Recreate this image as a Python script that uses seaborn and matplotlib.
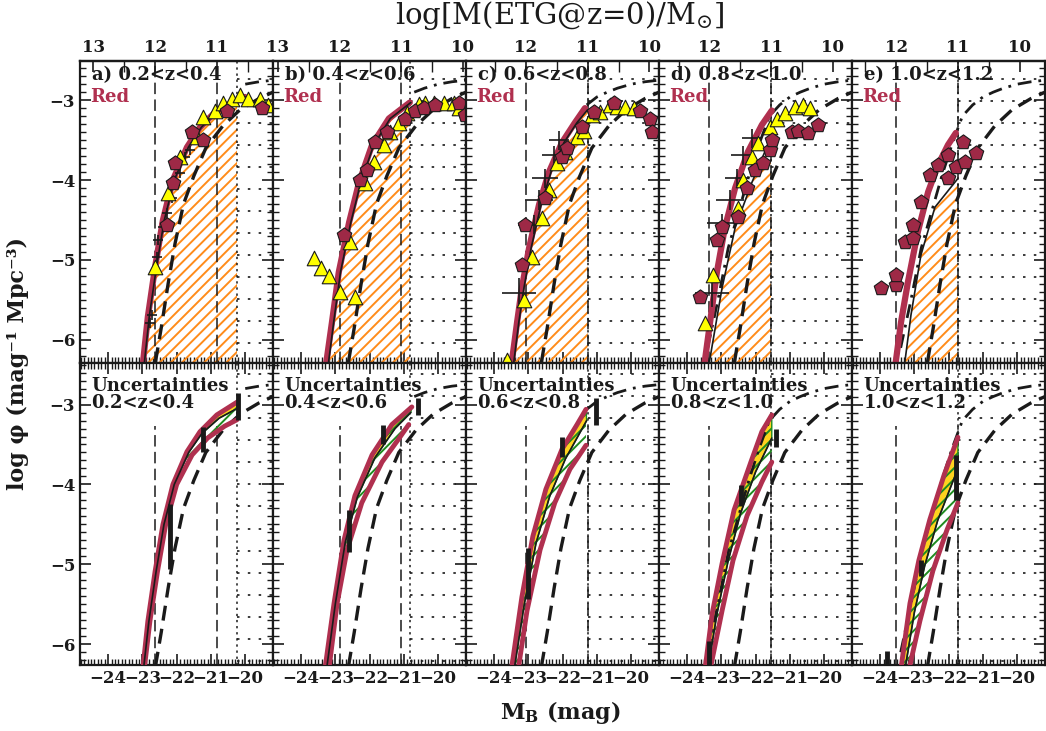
import matplotlib
matplotlib.use("Agg")
import matplotlib.pyplot as plt
import numpy as np
import seaborn as sns
from matplotlib.patches import Rectangle
from matplotlib.ticker import MultipleLocator

# ---- panel set-up -------------------------------------------------------
PANEL_TAGS = ["a)", "b)", "c)", "d)", "e)"]
ZBINS = ["0.2<z<0.4", "0.4<z<0.6", "0.6<z<0.8", "0.8<z<1.0", "1.0<z<1.2"]
M_AT_LOGM12 = [-22.63, -22.88, -23.07, -23.35, -23.53]   # M_B where log M = 12
MAG_PER_DEX = 1.8
COMPLETENESS = [-20.24, -20.83, -21.27, -21.55, -21.73]  # start of dotted region
DASHDOT_START = [-20.30, -20.90, -21.30, -24.5, -24.5]

# ---- top row: fitted LF (thick red) and thin black model ------------------
RED_M = [
    [-23.00, -22.84, -22.63, -22.40, -22.11, -21.70, -21.32, -20.83, -20.36, -20.01],
    [-23.32, -23.10, -22.90, -22.60, -22.31, -21.93, -21.44, -20.83],
    [-23.50, -23.33, -23.19, -22.98, -22.69, -22.40, -22.02, -21.64, -21.35],
    [-23.50, -23.33, -23.13, -22.90, -22.60, -22.23, -21.82, -21.53],
    [-23.56, -23.39, -23.19, -22.90, -22.60, -22.31, -22.02, -21.79],
]
RED_PHI = [
    [-6.36, -5.71, -5.09, -4.50, -4.00, -3.59, -3.34, -3.13, -3.03, -2.96],
    [-6.45, -5.78, -5.15, -4.53, -4.03, -3.56, -3.23, -3.03],
    [-6.33, -5.78, -5.35, -4.85, -4.31, -3.90, -3.53, -3.28, -3.10],
    [-6.32, -5.78, -5.15, -4.60, -4.10, -3.65, -3.31, -3.13],
    [-6.33, -5.78, -5.28, -4.65, -4.15, -3.81, -3.56, -3.41],
]
BLACK_M = [
    [-22.96, -22.80, -22.59, -22.36, -22.07, -21.66, -21.28, -20.79, -20.32, -19.97],
    [-23.25, -23.05, -22.85, -22.55, -22.26, -21.88, -21.40, -20.80],
    [-23.44, -23.28, -23.13, -22.92, -22.63, -22.34, -21.96, -21.58, -21.27],
    [-23.38, -23.20, -22.98, -22.60, -22.11, -21.53],
    [-23.30, -23.10, -22.81, -22.40, -21.73],
]
BLACK_PHI = [
    [-6.36, -5.71, -5.09, -4.50, -4.00, -3.59, -3.34, -3.13, -3.03, -2.96],
    [-6.45, -5.78, -5.15, -4.53, -4.03, -3.56, -3.23, -3.03],
    [-6.33, -5.78, -5.35, -4.85, -4.31, -3.90, -3.53, -3.28, -3.12],
    [-6.35, -5.90, -5.35, -4.60, -4.03, -3.44],
    [-6.35, -5.69, -4.94, -4.34, -3.98],
]

# local reference LF (thick dashed) and evolved curve (dash-dot), shared
LOCAL_M = [-22.62, -22.45, -22.25, -22.05, -21.80, -21.50, -21.15, -20.65, -20.15, -19.60, -19.19]
LOCAL_PHI = [-6.28, -5.85, -5.30, -4.80, -4.30, -3.95, -3.60, -3.32, -3.12, -2.98, -2.90]
DASHDOT_M = [-23.40, -23.10, -22.80, -22.50, -22.20, -21.90, -21.60, -21.30, -21.00, -20.70, -20.40, -20.00, -19.60, -19.19]
DASHDOT_PHI = [-6.10, -5.50, -4.85, -4.40, -3.95, -3.55, -3.20, -3.06, -2.96, -2.90, -2.85, -2.80, -2.77, -2.75]

# ---- top row: data points -------------------------------------------------
TRI_M = [
    [-22.63, -22.25, -21.90, -21.41, -21.23, -20.88, -20.65, -20.39, -20.16, -19.92, -19.57, -19.34],
    [-23.62, -23.42, -23.19, -22.87, -22.43, -22.58, -22.14, -21.88, -21.58, -21.41, -21.15, -20.91,
     -20.56, -20.39, -20.12, -19.83, -19.54, -19.40],
    [-23.62, -23.13, -22.90, -22.60, -22.40, -22.17, -21.93, -21.58, -21.38, -21.15, -20.91, -20.62,
     -20.42, -20.19, -19.92],
    [-23.48, -23.25, -22.52, -22.37, -22.11, -21.93, -21.58, -21.38, -21.15, -20.85, -20.62, -20.42],
    [],
]
TRI_PHI = [
    [-5.09, -4.16, -3.71, -3.46, -3.21, -3.13, -3.03, -2.98, -2.94, -2.98, -2.98, -3.06],
    [-4.98, -5.10, -5.20, -5.40, -5.46, -4.78, -4.04, -3.78, -3.56, -3.40, -3.28, -3.16,
     -3.05, -3.04, -3.03, -3.04, -3.03, -3.10],
    [-6.25, -5.50, -4.96, -4.48, -4.13, -3.79, -3.65, -3.46, -3.38, -3.19, -3.15, -3.06,
     -3.09, -3.09, -3.10],
    [-5.79, -5.19, -4.35, -4.00, -3.71, -3.54, -3.34, -3.23, -3.16, -3.09, -3.06, -3.10],
    [],
]
PENT_M = [
    [-22.05, -22.11, -22.28, -21.55, -21.23, -20.53, -19.51],
    [-22.75, -22.28, -22.08, -21.85, -21.50, -20.97, -20.68, -20.42, -20.10, -19.40, -19.22],
    [-23.10, -23.19, -22.52, -22.02, -21.87, -21.44, -21.09, -20.50, -19.75, -19.46, -19.40],
    [-23.62, -23.13, -22.98, -22.52, -22.26, -22.02, -21.79, -21.58, -21.53, -20.94, -20.77, -20.47, -20.18],
    [-23.97, -23.54, -23.54, -23.27, -23.04, -23.04, -22.81, -22.55, -22.31, -22.02, -22.02, -21.79,
     -21.58, -21.53, -21.20],
]
PENT_PHI = [
    [-3.79, -4.04, -4.56, -3.40, -3.50, -3.13, -3.10],
    [-4.69, -4.00, -3.88, -3.53, -3.40, -3.23, -3.13, -3.10, -3.06, -3.03, -3.19],
    [-4.56, -5.06, -4.23, -3.71, -3.60, -3.34, -3.15, -3.04, -3.13, -3.23, -3.40],
    [-5.46, -4.75, -4.59, -4.46, -4.10, -3.88, -3.79, -3.63, -3.50, -3.40, -3.38, -3.41, -3.31],
    [-5.35, -5.31, -5.19, -4.78, -4.73, -4.56, -4.28, -3.94, -3.81, -3.98, -3.69, -3.84,
     -3.53, -3.78, -3.66],
]
CROSS_M = [
    [-22.78, -22.72, -22.57, -22.55, -22.40, -22.28, -22.14, -22.05, -21.90, -21.76, -21.61],
    [],
    [-23.27, -22.84, -22.69, -22.52, -22.25, -22.11],
    [-23.27, -22.98, -22.75, -22.55, -22.37, -22.11],
    [],
]
CROSS_PHI = [
    [-5.79, -5.69, -4.96, -4.75, -4.59, -4.41, -4.23, -4.06, -3.91, -3.71, -3.63],
    [],
    [-5.41, -4.56, -4.25, -3.98, -3.69, -3.50],
    [-5.41, -4.54, -4.25, -3.98, -3.69, -3.48],
    [],
]
CROSS_XERR = [
    [0.15] * 11,
    [],
    [0.50, 0.45, 0.40, 0.38, 0.35, 0.30],
    [0.50, 0.45, 0.40, 0.35, 0.35, 0.30],
    [],
]
CROSS_YERR = [
    [0.06] * 11,
    [],
    [0.18, 0.12, 0.12, 0.12, 0.12, 0.12],
    [0.18, 0.12, 0.12, 0.12, 0.12, 0.12],
    [],
]

# ---- bottom row: uncertainty envelopes -----------------------------------
HI_M = [
    [-23.00, -22.84, -22.63, -22.40, -22.11, -21.70, -21.32, -20.83, -20.24],
    [-23.35, -23.04, -22.75, -22.43, -21.93, -21.35, -20.77],
    [-23.50, -23.19, -22.87, -22.49, -22.02, -21.58, -21.32],
    [-23.48, -23.27, -22.98, -22.63, -22.14, -21.82, -21.53],
    [-23.40, -23.13, -22.87, -22.55, -22.14, -21.73],
]
HI_PHI = [
    [-6.36, -5.71, -5.09, -4.50, -4.00, -3.59, -3.34, -3.13, -2.97],
    [-6.45, -5.49, -4.70, -4.14, -3.63, -3.25, -3.03],
    [-6.33, -5.41, -4.65, -4.06, -3.56, -3.25, -3.06],
    [-6.32, -5.62, -4.99, -4.32, -3.72, -3.34, -3.13],
    [-6.33, -5.49, -4.95, -4.44, -3.89, -3.41],
]
MID_M = [
    [-22.98, -22.81, -22.60, -22.37, -22.07, -21.65, -21.26, -20.76, -20.24],
    [-23.30, -23.00, -22.71, -22.36, -21.84, -21.26, -20.80],
    [-23.42, -23.12, -22.78, -22.38, -21.92, -21.30],
    [-23.40, -23.12, -22.81, -22.44, -22.00, -21.53],
    [-23.28, -23.00, -22.70, -22.32, -21.73],
]
MID_PHI = [
    [-6.36, -5.71, -5.09, -4.50, -4.00, -3.60, -3.36, -3.17, -3.05],
    [-6.45, -5.49, -4.72, -4.16, -3.66, -3.30, -3.10],
    [-6.33, -5.50, -4.74, -4.15, -3.68, -3.20],
    [-6.32, -5.60, -4.97, -4.36, -3.84, -3.42],
    [-6.33, -5.60, -5.02, -4.45, -3.80],
]
LO_M = [
    [-22.96, -22.78, -22.56, -22.32, -22.00, -21.55, -21.10, -20.60, -20.24],
    [-23.20, -22.95, -22.66, -22.23, -21.64, -21.12, -20.86],
    [-23.30, -23.04, -22.66, -22.23, -21.79, -21.32],
    [-23.33, -22.98, -22.66, -22.25, -21.82, -21.53],
    [-23.16, -22.84, -22.46, -22.05, -21.73],
]
LO_PHI = [
    [-6.36, -5.71, -5.09, -4.50, -4.00, -3.63, -3.42, -3.27, -3.19],
    [-6.35, -5.49, -4.82, -4.23, -3.72, -3.41, -3.25],
    [-6.32, -5.58, -4.82, -4.23, -3.81, -3.51],
    [-6.32, -5.58, -4.95, -4.39, -3.97, -3.72],
    [-6.32, -5.71, -5.08, -4.57, -4.23],
]
ERR_M = [
    [-22.20, -21.23, -20.21],
    [-22.60, -21.61, -20.59],
    [-23.00, -22.02, -21.03],
    [-23.36, -22.43, -21.41],
    [-23.80, -22.81, -21.79],
]
ERR_LO = [
    [-5.06, -3.59, -3.19],
    [-4.84, -3.49, -3.13],
    [-5.43, -3.66, -3.25],
    [-6.32, -4.27, -3.53],
    [-6.32, -5.15, -4.19],
]
ERR_HI = [
    [-4.24, -3.28, -2.85],
    [-4.32, -3.25, -2.92],
    [-4.80, -3.41, -2.92],
    [-5.96, -4.01, -3.30],
    [-6.09, -4.95, -3.63],
]

RED = "#b0304f"
PENT_COLOR = "#9e2946"
ORANGE = "#ff8c1a"
GREEN = "#1f8c1f"
GOLD = "#ffd21f"

XLIM = (-24.82, -19.19)
YLIM_TOP = (-6.29, -2.51)
YLIM_BOT = (-6.26, -2.48)

W, H = 1046, 731
LEFT_PX = [80, 273, 466, 659, 852]
PANEL_W = 193
PANEL_H = 302


def line(ax, x, y, **kw):
    sns.lineplot(x=x, y=y, ax=ax, sort=False, estimator=None, legend=False, **kw)


def dotted_region(ax, xstart, rows):
    for yy in rows:
        ax.hlines(yy, xstart, XLIM[1], colors="k", lw=1.2,
                  linestyles=[(0, (1.5, 5))], zorder=1)
    ax.axvline(xstart, color="k", lw=1.1, ls=(0, (1.5, 2.5)), zorder=1)


def style_axes(ax, ylim, first, bottom_row):
    ax.set_xlim(*XLIM)
    ax.set_ylim(*ylim)
    ax.xaxis.set_major_locator(MultipleLocator(1))
    ax.xaxis.set_minor_locator(MultipleLocator(0.1))
    ax.yaxis.set_major_locator(MultipleLocator(1))
    ax.yaxis.set_minor_locator(MultipleLocator(0.1))
    ax.tick_params(which="major", direction="in", length=8, width=1.2,
                   right=True, top=bottom_row, labelsize=12, colors="k")
    ax.tick_params(which="minor", direction="in", length=4, width=1.0,
                   right=True, top=bottom_row, colors="k")
    for s in ax.spines.values():
        s.set_linewidth(1.6)
        s.set_color("k")
    ax.set_xlabel("")
    ax.set_ylabel("")
    if first:
        ax.set_yticks([-3, -4, -5, -6])
        ax.set_yticklabels(["\u22123", "\u22124", "\u22125", "\u22126"],
                           fontweight="bold")
    else:
        ax.tick_params(labelleft=False)
    if bottom_row:
        ax.set_xticks([-24, -23, -22, -21, -20])
        ax.set_xticklabels(["\u221224", "\u221223", "\u221222", "\u221221", "\u221220"],
                           fontweight="bold")
    else:
        ax.tick_params(labelbottom=False)


def main():
    sns.set_theme(style="ticks")
    plt.rcParams["font.family"] = ["DejaVu Serif"]
    plt.rcParams["mathtext.fontset"] = "dejavuserif"
    plt.rcParams["mathtext.default"] = "regular"
    plt.rcParams["hatch.linewidth"] = 1.4
    plt.rcParams["text.color"] = "k"

    fig = plt.figure(figsize=(W / 100, H / 100), dpi=100)
    top_rows = np.arange(-2.73, -6.3, -0.276)
    bot_rows = np.arange(-2.62, -6.3, -0.276)

    for i in range(5):
        m12 = M_AT_LOGM12[i]
        m11 = m12 + MAG_PER_DEX
        x0 = LEFT_PX[i] / W
        dd_m = [m for m in DASHDOT_M if m >= DASHDOT_START[i]]
        dd_p = [p for m, p in zip(DASHDOT_M, DASHDOT_PHI) if m >= DASHDOT_START[i]]

        # ------------------------------ top row ------------------------------
        ax = fig.add_axes([x0, 1 - 363 / H, PANEL_W / W, PANEL_H / H])
        clip = Rectangle((XLIM[0], -7), COMPLETENESS[i] - XLIM[0], 5, transform=ax.transData)
        hatch = ax.fill_between(BLACK_M[i], BLACK_PHI[i], -7, facecolor="none",
                                edgecolor=ORANGE, hatch="///", lw=0, zorder=1)
        hatch.set_clip_path(clip)
        dotted_region(ax, COMPLETENESS[i], top_rows)
        for xv in (m12, m11):
            ax.axvline(xv, color="k", lw=1.1, ls=(0, (7.5, 3.5)), zorder=2)
        line(ax, LOCAL_M, LOCAL_PHI, color="k", lw=2.4, ls=(0, (4.5, 2.5)), zorder=3)
        line(ax, dd_m, dd_p, color="k", lw=2.0, ls=(0, (5, 2.5, 1, 2.5)), zorder=3)
        line(ax, RED_M[i], RED_PHI[i], color=RED, lw=4.5, zorder=4)
        line(ax, BLACK_M[i], BLACK_PHI[i], color="k", lw=1.2, zorder=5)
        if CROSS_M[i]:
            ax.errorbar(CROSS_M[i], CROSS_PHI[i], xerr=CROSS_XERR[i], yerr=CROSS_YERR[i],
                        fmt="none", ecolor="k", elinewidth=1.2, zorder=6)
        if TRI_M[i]:
            sns.scatterplot(x=TRI_M[i], y=TRI_PHI[i], ax=ax, marker="^", s=110,
                            color="#ffff00", edgecolor="k", linewidth=0.8, zorder=7)
        sns.scatterplot(x=PENT_M[i], y=PENT_PHI[i], ax=ax, marker="p", s=120,
                        color=PENT_COLOR, edgecolor="k", linewidth=0.8, zorder=7)
        ax.text(0.06, 0.982, f"{PANEL_TAGS[i]} {ZBINS[i]}", transform=ax.transAxes,
                ha="left", va="top", fontsize=13, fontweight="bold", zorder=9)
        ax.text(0.055, 0.912, "Red", transform=ax.transAxes, ha="left", va="top",
                fontsize=13, fontweight="bold", color=RED, zorder=9)
        style_axes(ax, YLIM_TOP, i == 0, False)

        sec = ax.secondary_xaxis(
            "top",
            functions=(lambda m, c=m12: 12.0 - (m - c) / MAG_PER_DEX,
                       lambda lm, c=m12: c - (lm - 12.0) * MAG_PER_DEX),
        )
        sec.set_xticks([10, 11, 12, 13])
        sec.xaxis.set_minor_locator(MultipleLocator(0.5))
        sec.tick_params(which="major", direction="in", length=8, width=1.2,
                        labelsize=12, colors="k")
        sec.tick_params(which="minor", direction="in", length=8, width=1.0, colors="k")
        for lab in sec.get_xticklabels():
            lab.set_fontweight("bold")
        sec.spines["top"].set_linewidth(1.6)
        sec.spines["top"].set_color("k")

        # ---------------------------- bottom row -----------------------------
        bx = fig.add_axes([x0, 1 - 665 / H, PANEL_W / W, PANEL_H / H])
        dotted_region(bx, COMPLETENESS[i], bot_rows)
        for xv in (m12, m11):
            bx.axvline(xv, ymax=(-3.27 - YLIM_BOT[0]) / (YLIM_BOT[1] - YLIM_BOT[0]),
                       color="k", lw=1.1, ls=(0, (7.5, 3.5)), zorder=2)
        band_x = np.r_[HI_M[i], LO_M[i][::-1]]
        band_y = np.r_[HI_PHI[i], LO_PHI[i][::-1]]
        core_x = np.r_[HI_M[i], MID_M[i][::-1]]
        core_y = np.r_[HI_PHI[i], MID_PHI[i][::-1]]
        bx.fill(core_x, core_y, facecolor=GOLD, edgecolor=GREEN, lw=1.0, zorder=2)
        bx.fill(band_x, band_y, facecolor="none", edgecolor=GREEN, hatch="///", lw=0, zorder=2)
        line(bx, LOCAL_M, LOCAL_PHI, color="k", lw=2.4, ls=(0, (4.5, 2.5)), zorder=3)
        line(bx, dd_m, dd_p, color="k", lw=2.0, ls=(0, (5, 2.5, 1, 2.5)), zorder=3)
        line(bx, HI_M[i], HI_PHI[i], color=RED, lw=3.5, zorder=4)
        line(bx, LO_M[i], LO_PHI[i], color=RED, lw=3.5, zorder=4)
        line(bx, MID_M[i], MID_PHI[i], color="k", lw=1.2, zorder=5)
        bx.vlines(ERR_M[i], ERR_LO[i], ERR_HI[i], colors="k", lw=3.5, zorder=6)
        bx.text(0.06, 0.955, f"Uncertainties\n{ZBINS[i]}", transform=bx.transAxes,
                ha="left", va="top", fontsize=13, fontweight="bold", linespacing=0.95,
                zorder=9)
        style_axes(bx, YLIM_BOT, i == 0, True)

    fig.text(560 / W, 1 - 16 / H, r"log[M(ETG@z=0)/M$_{\odot}$]", ha="center",
             va="center", fontsize=21)
    fig.text(560 / W, 1 - 712 / H, r"M$_{B}$ (mag)", ha="center", va="center",
             fontsize=16, fontweight="bold")
    fig.text(18 / W, 1 - 363 / H, "log \u03c6 (mag\u207b\u00b9 Mpc\u207b\u00b3)",
             ha="center", va="center", rotation=90, fontsize=16, fontweight="bold")

    fig.savefig("out.png", dpi=100)
    plt.close(fig)


if __name__ == "__main__":
    main()
